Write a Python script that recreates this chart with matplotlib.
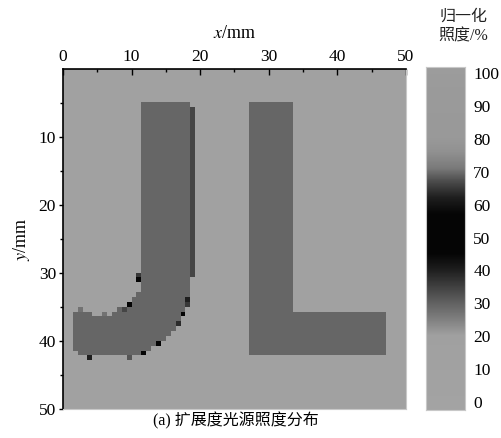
import numpy as np
import matplotlib
matplotlib.use('Agg')
import matplotlib.pyplot as plt
from matplotlib.colors import LinearSegmentedColormap
from matplotlib.path import Path

plt.rcParams['font.family'] = ['Liberation Serif', 'Noto Sans CJK SC']
plt.rcParams['mathtext.fontset'] = 'stix'

# ---- data (mm / normalized illuminance %) ----
grid_n = 70
size_mm = 50
background_level = 10
letter_level = 29
edge_strip_level = 34

# letter outlines
j_outline_x = [11.5, 18.7, 18.7, 18.4, 17.8, 16.8, 15.4, 13.8, 12.2, 11.5, 2.0, 1.5,
               1.5, 4.4, 4.6, 7.3, 7.6, 9.0, 10.5, 11.5]
j_outline_y = [5.3, 5.3, 32.5, 34.0, 35.8, 37.6, 39.2, 40.6, 41.3, 41.9, 41.9, 41.3,
               35.4, 35.4, 36.2, 36.2, 35.4, 35.0, 33.6, 32.0]
l_outline_x = [27.4, 33.8, 33.8, 47.2, 47.2, 27.4]
l_outline_y = [5.3, 5.3, 35.5, 35.5, 41.9, 41.9]

# darker strip on the right side of the J stem
strip_x = (18.7, 19.6)
strip_y = (6.0, 30.8)

# isolated dark pixels along the J hook
spot_x = [11.1, 11.1, 9.5, 8.8, 18.3, 18.3, 17.4, 16.6, 13.6, 12.0, 4.0, 9.3, 5.9, 2.5]
spot_y = [30.4, 31.2, 34.5, 35.2, 33.8, 34.6, 35.9, 37.5, 40.7, 41.6, 42.3, 42.3, 35.9, 35.1]
spot_val = [36, 45, 48, 34, 40, 36, 48, 38, 46, 50, 40, 32, 27, 27]

# colour bar
cbar_ticks = [0, 10, 20, 30, 40, 50, 60, 70, 80, 90, 100]
cmap_pos = [0.0, 0.20, 0.25, 0.30, 0.35, 0.40, 0.45, 0.57, 0.62, 0.67, 0.71, 0.76, 0.80, 1.0]
cmap_gray = [0.64, 0.63, 0.50, 0.38, 0.25, 0.12, 0.02, 0.02, 0.12, 0.30, 0.48, 0.57, 0.60, 0.61]

# ---- build image ----
cell = size_mm / grid_n
centres = (np.arange(grid_n) + 0.5) * cell
gx, gy = np.meshgrid(centres, centres)
pts = np.column_stack([gx.ravel(), gy.ravel()])

img = np.full((grid_n, grid_n), float(background_level))
for ox, oy in [(j_outline_x, j_outline_y), (l_outline_x, l_outline_y)]:
    inside = Path(np.column_stack([ox, oy])).contains_points(pts).reshape(grid_n, grid_n)
    img[inside] = letter_level
strip = (gx >= strip_x[0]) & (gx <= strip_x[1]) & (gy >= strip_y[0]) & (gy <= strip_y[1])
img[strip] = edge_strip_level
for sx, sy, sv in zip(spot_x, spot_y, spot_val):
    img[int(sy / cell), int(sx / cell)] = sv

cmap = LinearSegmentedColormap.from_list('lum', list(zip(cmap_pos, [(g, g, g) for g in cmap_gray])))

# ---- figure ----
fig = plt.figure(figsize=(5.01, 4.38), dpi=100)
ax = fig.add_axes([0.1257, 0.0662, 0.6846, 0.7763])
ax.imshow(img, cmap=cmap, vmin=0, vmax=100, extent=[0, 50, 50, 0],
          interpolation='nearest', aspect='auto')
ax.set_xlim(0, 50)
ax.set_ylim(50, 0)

ax.xaxis.tick_top()
ax.xaxis.set_label_position('top')
ax.set_xticks(np.arange(0, 51, 10))
ax.set_xticks(np.arange(5, 50, 10), minor=True)
ax.set_yticks(np.arange(10, 51, 10))
ax.set_yticks(np.arange(5, 50, 10), minor=True)
ax.tick_params(axis='x', which='major', direction='in', length=4, width=1, labelsize=12.5, pad=3)
ax.tick_params(axis='x', which='minor', direction='in', length=2.5, width=1)
ax.tick_params(axis='y', which='major', direction='out', length=3, width=1, labelsize=12.5, pad=2)
ax.tick_params(axis='y', which='minor', direction='out', length=2, width=1)
for s in ['left', 'top']:
    ax.spines[s].set_linewidth(1.2)
for s in ['right', 'bottom']:
    ax.spines[s].set_color('#c8c8c8')
    ax.spines[s].set_linewidth(0.8)

ax.set_xlabel('$x$/mm', fontsize=13, labelpad=8)
ax.set_ylabel('$y$/mm', fontsize=13, labelpad=5)

fig.text(0.47, 0.04, '(a) 扩展度光源照度分布', ha='center', va='center', fontsize=11.5)

# colour bar drawn as its own axes
cax = fig.add_axes([0.8503, 0.0639, 0.0778, 0.7831])
grad = np.linspace(0, 100, 256).reshape(-1, 1)
cax.imshow(grad, cmap=cmap, vmin=0, vmax=100, extent=[0, 1, 0, 100],
           origin='lower', aspect='auto')
cax.set_xlim(0, 1)
cax.set_ylim(-2.4, 101.8)
cax.axhspan(-2.4, 0, color=cmap(0.0))
cax.axhspan(100, 101.8, color=cmap(1.0))
cax.set_xticks([])
cax.set_yticks(cbar_ticks)
cax.yaxis.tick_right()
cax.tick_params(axis='y', length=0, labelsize=12.5, pad=6)
for s in cax.spines.values():
    s.set_color('#c8c8c8')
    s.set_linewidth(0.8)

fig.text(0.925, 0.94, '归一化\n照度/%', ha='center', va='center', fontsize=11.5,
         linespacing=1.3, color='#222222')

fig.savefig('out.png', dpi=100)
